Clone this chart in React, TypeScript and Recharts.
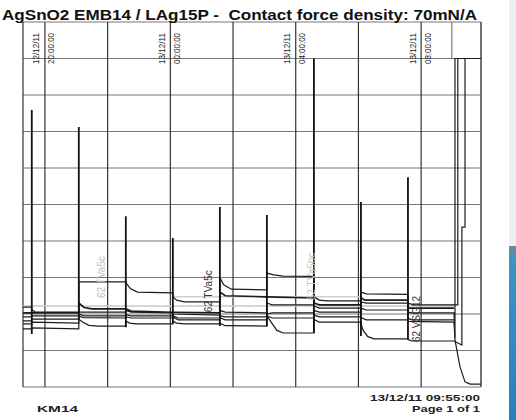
import React from "react";
import {
  ComposedChart,
  Line,
  Scatter,
  XAxis,
  YAxis,
  CartesianGrid,
  ReferenceLine,
} from "recharts";

// time in hours after 12/12/11 20:00:00
const T_MIN = -0.7;
const T_MAX = 13.91;

const gridHours = [0, 2, 4, 6, 8, 10, 12];
const labelHours = [0, 4, 8, 12];
const labelDates = ["12/12/11", "13/12/11", "13/12/11", "13/12/11"];
const labelTimes = ["20:00:00", "00:00:00", "04:00:00", "08:00:00"];
const levelTicks = [0, 1, 2, 3, 4, 5, 6, 7, 8, 9, 10];

// switching spikes at the start of every cycle
const spikeTimes = [-0.42, 1.08, 2.58, 4.08, 5.58, 7.08, 8.58, 10.08, 11.58];
const spikeTops = [7.59, 7.12, 4.68, 4.08, 4.93, 4.71, 9.0, 5.07, 5.75];
const spikeLows = [1.45, 1.86, 1.64, 1.73, 1.67, 1.67, 1.48, 1.4, 1.3];

// contact traces [hour, value]
const trace1 = [
  [-0.7, 2.19], [-0.42, 2.19],
  [-0.42, 2.12], [-0.3, 2.05], [1.08, 2.05],
  [1.08, 2.88], [2.58, 2.88],
  [2.58, 2.86], [2.72, 2.7], [2.95, 2.6], [4.08, 2.58],
  [4.08, 2.47], [4.2, 2.38], [4.45, 2.33], [5.58, 2.33],
  [5.58, 3.0], [5.7, 2.8], [5.95, 2.68], [7.08, 2.66],
  [7.08, 3.12], [7.3, 3.07], [7.6, 3.04], [8.58, 3.03],
  [8.58, 2.47], [8.75, 2.38], [9.0, 2.36], [10.08, 2.36],
  [10.08, 2.6], [10.25, 2.55], [11.58, 2.54],
  [11.58, 2.3], [11.75, 2.25], [13.05, 2.25],
  [13.17, 2.25], [13.17, 9.0], [13.91, 9.0],
];
const trace2 = [
  [-0.7, 2.03], [-0.42, 2.03],
  [-0.42, 2.03], [1.08, 2.03],
  [1.08, 2.3], [1.25, 2.18], [1.5, 2.14], [2.58, 2.14],
  [2.58, 2.14], [2.75, 2.08], [4.08, 2.05],
  [4.08, 2.05], [5.58, 2.03],
  [5.58, 2.6], [5.75, 2.5], [7.08, 2.47],
  [7.08, 2.47], [8.58, 2.44],
  [8.58, 2.3], [8.75, 2.25], [10.08, 2.25],
  [10.08, 2.45], [10.2, 2.38], [11.58, 2.38],
  [11.58, 2.16], [13.05, 2.16],
];
const trace3 = [
  [-0.7, 1.92], [-0.42, 1.92],
  [-0.42, 1.95], [1.08, 1.95],
  [1.08, 2.05], [2.58, 2.05],
  [2.58, 2.1], [2.75, 2.05], [4.08, 2.03],
  [4.08, 2.0], [5.58, 1.97],
  [5.58, 2.1], [5.75, 2.05], [7.08, 2.03],
  [7.08, 2.3], [7.25, 2.25], [8.58, 2.25],
  [8.58, 2.22], [8.75, 2.16], [10.08, 2.16],
  [10.08, 2.33], [10.25, 2.3], [11.58, 2.3],
  [11.58, 2.05], [11.7, 2.03], [13.05, 2.03],
  [13.08, 1.35], [13.08, 9.0], [13.91, 9.0],
];
const trace4 = [
  [-0.7, 1.81], [-0.42, 1.81],
  [-0.42, 1.86], [1.08, 1.86],
  [1.08, 2.0], [1.25, 1.95], [2.58, 1.95],
  [2.58, 1.98], [2.75, 1.95], [4.08, 1.95],
  [4.08, 1.95], [4.25, 1.89], [5.58, 1.89],
  [5.58, 1.95], [5.75, 1.92], [7.08, 1.92],
  [7.08, 2.0], [7.25, 2.03], [8.58, 2.03],
  [8.58, 2.1], [8.75, 2.05], [10.08, 2.05],
  [10.08, 2.16], [10.25, 2.11], [11.58, 2.11],
  [11.58, 1.88], [11.7, 1.84], [13.05, 1.84],
];
const trace5 = [
  [-0.7, 1.73], [-0.42, 1.73],
  [-0.42, 1.78], [1.08, 1.75],
  [1.08, 1.95], [1.22, 1.9], [2.58, 1.89],
  [2.58, 1.92], [2.75, 1.89], [4.08, 1.89],
  [4.08, 1.92], [4.25, 1.84], [5.58, 1.84],
  [5.58, 1.9], [5.75, 1.84], [7.08, 1.84],
  [7.08, 1.95], [7.25, 1.89], [8.58, 1.89],
  [8.58, 1.97], [8.75, 1.92], [10.08, 1.92],
  [10.08, 1.9], [10.25, 1.84], [11.58, 1.84],
  [11.58, 1.8], [13.05, 1.78],
  [13.08, 1.29], [13.24, 0.55], [13.4, 0.14], [13.56, 0.08], [13.91, 0.08],
];
const trace6 = [
  [-0.7, 1.59], [-0.42, 1.59],
  [-0.42, 1.62], [1.08, 1.59],
  [1.08, 1.86], [1.2, 1.78], [1.4, 1.69], [1.7, 1.67], [2.58, 1.67],
  [2.58, 1.81], [2.7, 1.75], [2.9, 1.73], [4.08, 1.73],
  [4.08, 1.81], [4.2, 1.75], [4.45, 1.73], [5.58, 1.73],
  [5.58, 1.75], [5.75, 1.68], [7.08, 1.67],
  [7.08, 1.95], [7.2, 1.8], [7.4, 1.55], [7.6, 1.48], [8.58, 1.48],
  [8.58, 1.85], [8.75, 1.78], [10.08, 1.78],
  [10.08, 1.75], [10.15, 1.55], [10.3, 1.38], [10.5, 1.32], [11.58, 1.32],
  [11.58, 1.3], [11.7, 1.26], [13.05, 1.26],
  [13.3, 1.15], [13.3, 4.38], [13.4, 4.38], [13.4, 9.0], [13.91, 9.0],
];
// faint reference traces
const faint1 = [[-0.7, 2.22], [13.05, 2.22]];
const faint2 = [[4.08, 2.47], [10.08, 2.47]];

// channel annotations written along the traces
const notes = [
  { t: 1.91, v: 2.44, text: "62 TVa5c", color: "#bdbdbd" },
  { t: 5.33, v: 2.05, text: "62 TVa5c", color: "#333" },
  { t: 8.6, v: 2.38, text: "62 TVa5bc", color: "#c4c4c4" },
  { t: 11.96, v: 1.23, text: "62 VSG12", color: "#333" },
];

const toPts = (arr: number[][]) => arr.map(([t, v]) => ({ t, v }));

const spikeData = spikeTimes.flatMap((t, i) => [
  { t, v: spikeLows[i] },
  { t, v: spikeTops[i] },
  { t: t + 0.001, v: null },
]);

const traces = [trace1, trace2, trace3, trace4, trace5, trace6];

function TopTick(props: any) {
  const { x, y, payload } = props;
  const i = labelHours.indexOf(payload.value);
  if (i < 0) return null;
  const yb = y + 42;
  return (
    <g>
      <text
        transform={`translate(${x - 5.5},${yb}) rotate(-90)`}
        fontSize={8.5}
        textLength={31}
        lengthAdjust="spacingAndGlyphs"
        fill="#222"
        fontFamily="Liberation Sans, Arial, sans-serif"
      >
        {labelDates[i]}
      </text>
      <text
        transform={`translate(${x + 9.5},${yb}) rotate(-90)`}
        fontSize={8.5}
        textLength={31}
        lengthAdjust="spacingAndGlyphs"
        fill="#222"
        fontFamily="Liberation Sans, Arial, sans-serif"
      >
        {labelTimes[i]}
      </text>
    </g>
  );
}

function NoteShape(props: any) {
  const { cx, cy, payload } = props;
  return (
    <text
      transform={`translate(${cx},${cy}) rotate(-90)`}
      fontSize={10}
      fill={payload.color}
      fontFamily="Liberation Sans, Arial, sans-serif"
    >
      {payload.text}
    </text>
  );
}

export default function App() {
  const font = "Liberation Sans, Arial, sans-serif";
  return (
    <div
      style={{
        position: "absolute",
        left: 0,
        top: 0,
        width: 516,
        height: 420,
        background: "#fff",
        overflow: "hidden",
        fontFamily: font,
      }}
    >
      <ComposedChart
        width={516}
        height={420}
        margin={{ top: 21, right: 35, bottom: 33, left: 23 }}
      >
        <CartesianGrid vertical={false} stroke="#777" strokeWidth={1} />
        <CartesianGrid horizontal={false} stroke="#333" strokeWidth={1.2} />
        <XAxis
          dataKey="t"
          type="number"
          orientation="top"
          domain={[T_MIN, T_MAX]}
          allowDataOverflow
          ticks={gridHours}
          height={1}
          axisLine={false}
          tickLine={false}
          tickSize={0}
          tickMargin={0}
          tick={<TopTick />}
          interval={0}
        />
        <YAxis dataKey="v" hide domain={[0, 10]} ticks={levelTicks} />
        <ReferenceLine x={T_MAX} stroke="#666" strokeWidth={1.2} />
        <ReferenceLine
          segment={[
            { x: 12.98, y: 9 },
            { x: 12.98, y: 10 },
          ]}
          stroke="#666"
        />
        <Line
          data={toPts(faint1)}
          dataKey="v"
          type="linear"
          stroke="#c8c8c8"
          strokeWidth={1.5}
          dot={false}
          isAnimationActive={false}
        />
        <Line
          data={toPts(faint2)}
          dataKey="v"
          type="linear"
          stroke="#cfcfcf"
          strokeWidth={1.5}
          dot={false}
          isAnimationActive={false}
        />
        {traces.map((tr, i) => (
          <Line
            key={i}
            data={toPts(tr)}
            dataKey="v"
            type="linear"
            stroke="#1c1c1c"
            strokeWidth={i === 1 ? 1.6 : 1.2}
            dot={false}
            isAnimationActive={false}
          />
        ))}
        <Line
          data={spikeData}
          dataKey="v"
          type="linear"
          stroke="#111"
          strokeWidth={1.8}
          dot={false}
          connectNulls={false}
          isAnimationActive={false}
        />
        <Scatter
          data={notes}
          dataKey="v"
          shape={<NoteShape />}
          isAnimationActive={false}
        />
      </ComposedChart>
      <svg
        width={516}
        height={420}
        style={{ position: "absolute", left: 0, top: 0, pointerEvents: "none" }}
      >
        <text
          x={2}
          y={19.5}
          fontSize={14}
          fontWeight="bold"
          textLength={475}
          lengthAdjust="spacingAndGlyphs"
          fill="#111"
          fontFamily={font}
          xmlSpace="preserve"
        >
          AgSnO2 EMB14 / LAg15P -  Contact force density: 70mN/A
        </text>
        <text
          x={37}
          y={412}
          fontSize={9.5}
          fontWeight="bold"
          textLength={41}
          lengthAdjust="spacingAndGlyphs"
          fill="#222"
          fontFamily={font}
        >
          KM14
        </text>
        <text
          x={370}
          y={401}
          fontSize={8.5}
          fontWeight="bold"
          textLength={110}
          lengthAdjust="spacingAndGlyphs"
          fill="#222"
          fontFamily={font}
        >
          13/12/11 09:55:00
        </text>
        <text
          x={412}
          y={412}
          fontSize={9}
          fontWeight="bold"
          textLength={68}
          lengthAdjust="spacingAndGlyphs"
          fill="#222"
          fontFamily={font}
        >
          Page 1 of 1
        </text>
      </svg>
      <div
        style={{
          position: "absolute",
          left: 509,
          top: 0,
          width: 7,
          height: 246,
          background: "#eceef0",
        }}
      />
      <div
        style={{
          position: "absolute",
          left: 509,
          top: 246,
          width: 7,
          height: 174,
          background: "linear-gradient(#7c8389 0px, #3b95c5 14px, #2383b8 100%)",
        }}
      />
    </div>
  );
}
